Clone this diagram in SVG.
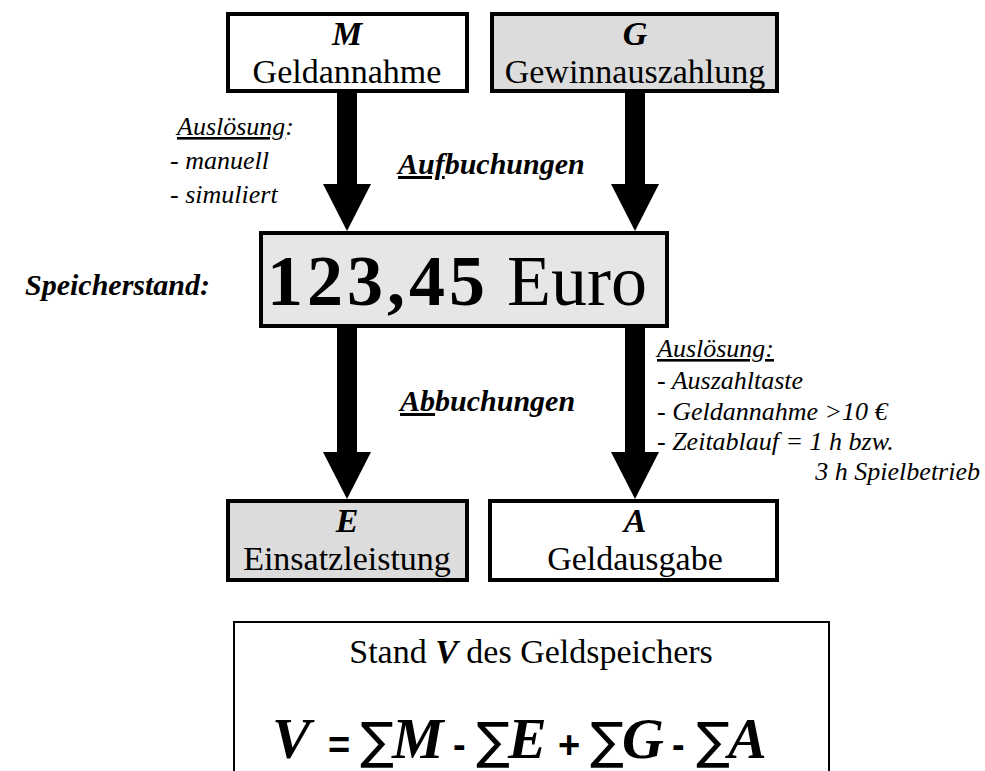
<svg xmlns="http://www.w3.org/2000/svg" width="985" height="771" viewBox="0 0 985 771">
<style>
text{font-family:"Liberation Serif","Times New Roman",serif;fill:#000}
.box{stroke:#000;stroke-width:4}
.lbl{font-size:34px;text-anchor:middle}
.bi{font-weight:bold;font-style:italic}
.it{font-style:italic;font-size:26px}
.u{text-decoration:underline}
.f{font-size:58px}
.sym{font-family:"DejaVu Sans","Liberation Sans",sans-serif;font-size:50px}
.op{font-family:"Liberation Sans",Arial,sans-serif;font-weight:bold;font-size:38px}
</style>
<rect width="985" height="771" fill="#fff"/>
<g id="connectors" fill="#000">
<rect x="337" y="92" width="20" height="93"/><polygon points="323,184 371,184 347,231"/>
<rect x="625" y="92" width="20" height="93"/><polygon points="611,184 659,184 635,231"/>
<rect x="337" y="327" width="20" height="126"/><polygon points="323,452 371,452 347,499"/>
<rect x="625" y="327" width="20" height="126"/><polygon points="611,452 659,452 635,499"/>
</g>
<g id="M"><rect class="box" x="228" y="14" width="239" height="77" fill="#fff"/>
<text class="lbl bi" x="347" y="45">M</text><text class="lbl" x="347" y="83">Geldannahme</text></g>
<g id="G"><rect class="box" x="492" y="14" width="285" height="77" fill="#dcdcdc"/>
<text class="lbl bi" x="635" y="45">G</text><text class="lbl" x="635" y="83">Gewinnauszahlung</text></g>
<g id="V"><rect class="box" x="261" y="233" width="406" height="93" fill="#e6e6e6"/>
<text x="457" y="305" font-size="72" text-anchor="middle"><tspan font-weight="bold" letter-spacing="4">123,45</tspan> Euro</text></g>
<g id="E"><rect class="box" x="228" y="501" width="239" height="79" fill="#dcdcdc"/>
<text class="lbl bi" x="347" y="532">E</text><text class="lbl" x="347" y="570">Einsatzleistung</text></g>
<g id="A"><rect class="box" x="490" y="501" width="287" height="79" fill="#fff"/>
<text class="lbl bi" x="635" y="532">A</text><text class="lbl" x="635" y="570">Geldausgabe</text></g>
<g id="labels">
<text class="it" x="177" y="135"><tspan class="u">Auslösung</tspan>:</text>
<text class="it" x="170" y="169">- manuell</text>
<text class="it" x="170" y="203">- simuliert</text>
<text class="bi" font-size="30" x="398" y="174"><tspan class="u">Auf</tspan>buchungen</text>
<text class="bi" font-size="30" x="400" y="411"><tspan class="u">Ab</tspan>buchungen</text>
<text class="bi" font-size="30" x="210" y="295" text-anchor="end">Speicherstand:</text>
<text class="it" x="657" y="357"><tspan class="u">Auslösung:</tspan></text>
<text class="it" x="657" y="389">- Auszahltaste</text>
<text class="it" x="657" y="420">- Geldannahme &gt;10 €</text>
<text class="it" x="657" y="450">- Zeitablauf = 1 h bzw.</text>
<text class="it" x="980" y="480" text-anchor="end">3 h Spielbetrieb</text>
</g>
<g id="formula">
<rect x="234" y="622" width="595" height="170" fill="#fff" stroke="#000" stroke-width="2"/>
<text x="531" y="663" font-size="34" text-anchor="middle">Stand <tspan class="bi">V</tspan> des Geldspeichers</text>
<text class="bi f" x="272" y="758">V</text>
<text class="op" x="328" y="758">=</text>
<text class="sym" x="360" y="758">∑</text>
<text class="bi f" x="392" y="758">M</text>
<text class="op" x="453" y="758">-</text>
<text class="sym" x="476" y="758">∑</text>
<text class="bi f" x="508" y="758">E</text>
<text class="op" x="558" y="758">+</text>
<text class="sym" x="590" y="758">∑</text>
<text class="bi f" x="622" y="758">G</text>
<text class="op" x="672" y="758">-</text>
<text class="sym" x="696" y="758">∑</text>
<text class="bi f" x="728" y="758">A</text>
</g>
</svg>
